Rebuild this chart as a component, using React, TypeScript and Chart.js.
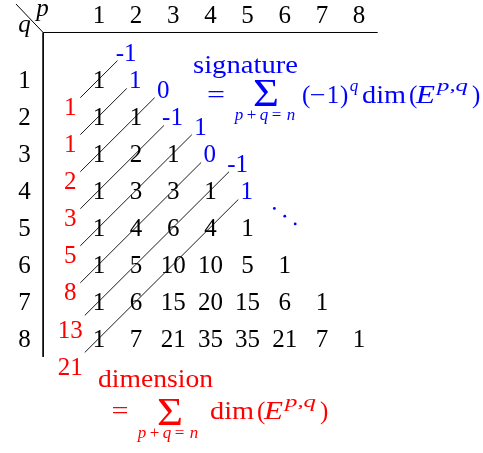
import React, { useEffect, useRef } from "react";
import { Chart, registerables } from "chart.js";

Chart.register(...registerables);

// ---- data ----
const columnLabels = ["1", "2", "3", "4", "5", "6", "7", "8"];
const rowLabels = ["1", "2", "3", "4", "5", "6", "7", "8"];
const pascalRows: number[][] = [
  [1],
  [1, 1],
  [1, 2, 1],
  [1, 3, 3, 1],
  [1, 4, 6, 4, 1],
  [1, 5, 10, 10, 5, 1],
  [1, 6, 15, 20, 15, 6, 1],
  [1, 7, 21, 35, 35, 21, 7, 1],
];
const dimensions = [1, 1, 2, 3, 5, 8, 13, 21];
const signatures = ["-1", "1", "0", "-1", "1", "0", "-1", "1"];

// ---- layout ----
const W = 483;
const H = 453;
const CELL_X = 37.8;
const CELL_Y = 37.7;
const P1_PX = 96.5;
const Q1_PX = 76.5;
const X_MIN = 1 - P1_PX / CELL_X;
const X_MAX = 1 + (W - P1_PX) / CELL_X;
const Y_MIN = 1 - Q1_PX / CELL_Y;
const Y_MAX = 1 + (H - Q1_PX) / CELL_Y;

const FONT = '"Liberation Serif"';
const BLUE = "#0000ff";
const RED = "#ff0000";
const BLACK = "#000000";
const SIZE = 25;
const DIGIT_DROP = 8.4;

function lineStart(k: number) {
  return k >= 7 ? { x: 0.62, y: k + 0.38 } : { x: 0.5, y: k + 0.5 };
}
function lineEnd(k: number) {
  if (k % 2 === 1) {
    const m = (k + 1) / 2;
    return { x: m + 0.5, y: m - 0.5 };
  }
  const m = k / 2;
  return { x: m + 0.75, y: m + 0.25 };
}

function drawText(
  ctx: CanvasRenderingContext2D,
  text: string,
  x: number,
  y: number,
  size: number,
  italic: boolean,
  color: string,
  align: string,
  width: number
) {
  ctx.save();
  ctx.font = (italic ? "italic " : "") + size + "px " + FONT;
  ctx.fillStyle = color;
  ctx.textBaseline = "alphabetic";
  ctx.textAlign = "left";
  const w = ctx.measureText(text).width;
  const sx = width > 0 ? width / w : 1;
  const dw = w * sx;
  const left = align === "center" ? x - dw / 2 : align === "right" ? x - dw : x;
  ctx.translate(left, y);
  ctx.scale(sx, 1);
  ctx.fillText(text, 0, 0);
  ctx.restore();
}

function drawSubscript(ctx: CanvasRenderingContext2D, x0: number, base: number, color: string) {
  const toks: [string, number, boolean][] = [
    ["p", 4, true],
    ["+", 16.5, false],
    ["q", 29, true],
    ["=", 41.5, false],
    ["n", 56, true],
  ];
  toks.forEach(([t, dx, it]) => drawText(ctx, t, x0 + dx, base, 17, it, color, "center", 0));
}

function drawDimE(ctx: CanvasRenderingContext2D, x0: number, base: number, color: string) {
  drawText(ctx, "dim", x0, base, SIZE, false, color, "left", 44);
  drawText(ctx, "(", x0 + 47, base, SIZE, false, color, "left", 0);
  drawText(ctx, "E", x0 + 54, base, SIZE, true, color, "left", 19);
  drawText(ctx, "p,q", x0 + 75, base - 12, 17, true, color, "left", 31);
  drawText(ctx, ")", x0 + 110, base, SIZE, false, color, "left", 0);
}

const textPlugin = {
  id: "diagramText",
  afterDatasetsDraw(chart: any) {
    const ctx: CanvasRenderingContext2D = chart.ctx;
    const xs = chart.scales.x;
    const ys = chart.scales.y;
    const px = (p: number) => xs.getPixelForValue(p);
    const py = (q: number) => ys.getPixelForValue(q);

    // corner labels
    drawText(ctx, "p", px(-0.52), py(-0.75) + 2, SIZE, true, BLACK, "center", 0);
    drawText(ctx, "q", px(-1.0), py(-0.3) + 1, SIZE, true, BLACK, "center", 0);

    // header & row labels
    columnLabels.forEach((l, i) => drawText(ctx, l, px(i + 1), py(-0.75) + DIGIT_DROP, SIZE, false, BLACK, "center", 0));
    rowLabels.forEach((l, i) => drawText(ctx, l, px(-1.0), py(i + 1) + DIGIT_DROP, SIZE, false, BLACK, "center", 0));

    // table
    pascalRows.forEach((row, qi) =>
      row.forEach((v, pi) =>
        drawText(ctx, String(v), px(pi + 1), py(qi + 1) + DIGIT_DROP, SIZE, false, BLACK, "center", 0)
      )
    );

    // red dimensions
    dimensions.forEach((d, i) => {
      const k = i + 1;
      drawText(ctx, String(d), px(0.23), py(k + 0.75) + DIGIT_DROP, SIZE, false, RED, "center", 0);
    });

    // blue signatures
    signatures.forEach((s, i) => {
      const e = lineEnd(i + 1);
      drawText(ctx, s, px(e.x + 0.23), py(e.y - 0.23) + DIGIT_DROP, SIZE, false, BLUE, "center", 0);
    });

    // signature formula
    drawText(ctx, "signature", 193, 73, SIZE, false, BLUE, "left", 105);
    drawText(ctx, "=", 216, 103, SIZE, false, BLUE, "center", 18);
    drawText(ctx, "Σ", 266, 106, 39, false, BLUE, "center", 26);
    drawSubscript(ctx, 235, 120, BLUE);
    drawText(ctx, "(", 302, 103, SIZE, false, BLUE, "left", 0);
    drawText(ctx, "−", 317.5, 103, SIZE, false, BLUE, "center", 16);
    drawText(ctx, "1", 333, 103, SIZE, false, BLUE, "center", 0);
    drawText(ctx, ")", 340, 103, SIZE, false, BLUE, "left", 0);
    drawText(ctx, "q", 354, 91, 17, true, BLUE, "center", 0);
    drawDimE(ctx, 362, 103, BLUE);

    // dimension formula
    drawText(ctx, "dimension", 98, 387, SIZE, false, RED, "left", 115);
    drawText(ctx, "=", 120, 419, SIZE, false, RED, "center", 17);
    drawText(ctx, "Σ", 170, 424.5, 39, false, RED, "center", 26);
    drawSubscript(ctx, 138, 438, RED);
    drawDimE(ctx, 210, 419, RED);
  },
};

export default function App() {
  const ref = useRef<HTMLCanvasElement | null>(null);
  useEffect(() => {
    document.body.style.margin = "0";
    const canvas = ref.current;
    if (!canvas) return;

    const lineDs = (a: { x: number; y: number }, b: { x: number; y: number }, width = 0.9) => ({
      data: [a, b],
      showLine: true,
      borderColor: BLACK,
      borderWidth: width,
      pointRadius: 0,
      fill: false,
    });

    const datasets: any[] = [];
    for (let k = 1; k <= dimensions.length; k++) datasets.push(lineDs(lineStart(k), lineEnd(k)));
    // frame
    datasets.push(lineDs({ x: -0.5, y: -0.26 }, { x: 8.5, y: -0.26 }, 1));
    datasets.push(lineDs({ x: -0.5, y: -0.26 }, { x: -0.5, y: 8.5 }, 1));
    datasets.push(lineDs({ x: -0.5, y: -0.26 }, { x: -1.27, y: -1.07 }, 1));
    // diagonal ellipsis
    datasets.push({
      data: [
        { x: 6.0 - 0.28, y: 4.7 - 0.21 },
        { x: 6.0, y: 4.7 },
        { x: 6.0 + 0.28, y: 4.7 + 0.21 },
      ],
      showLine: false,
      pointRadius: 1.4,
      pointBackgroundColor: BLUE,
      pointBorderWidth: 0,
    });

    const chart = new Chart(canvas, {
      type: "scatter",
      data: { datasets },
      options: {
        animation: false,
        responsive: false,
        maintainAspectRatio: false,
        events: [],
        layout: { padding: 0 },
        plugins: { legend: { display: false }, tooltip: { enabled: false } },
        scales: {
          x: { type: "linear", display: false, min: X_MIN, max: X_MAX },
          y: { type: "linear", display: false, min: Y_MIN, max: Y_MAX, reverse: true },
        },
      },
      plugins: [textPlugin],
    } as any);

    return () => {
      chart.destroy();
    };
  }, []);

  return (
    <div style={{ width: W, height: H, background: "#fff" }}>
      <canvas ref={ref} width={W} height={H} style={{ display: "block", width: W, height: H }} />
    </div>
  );
}
